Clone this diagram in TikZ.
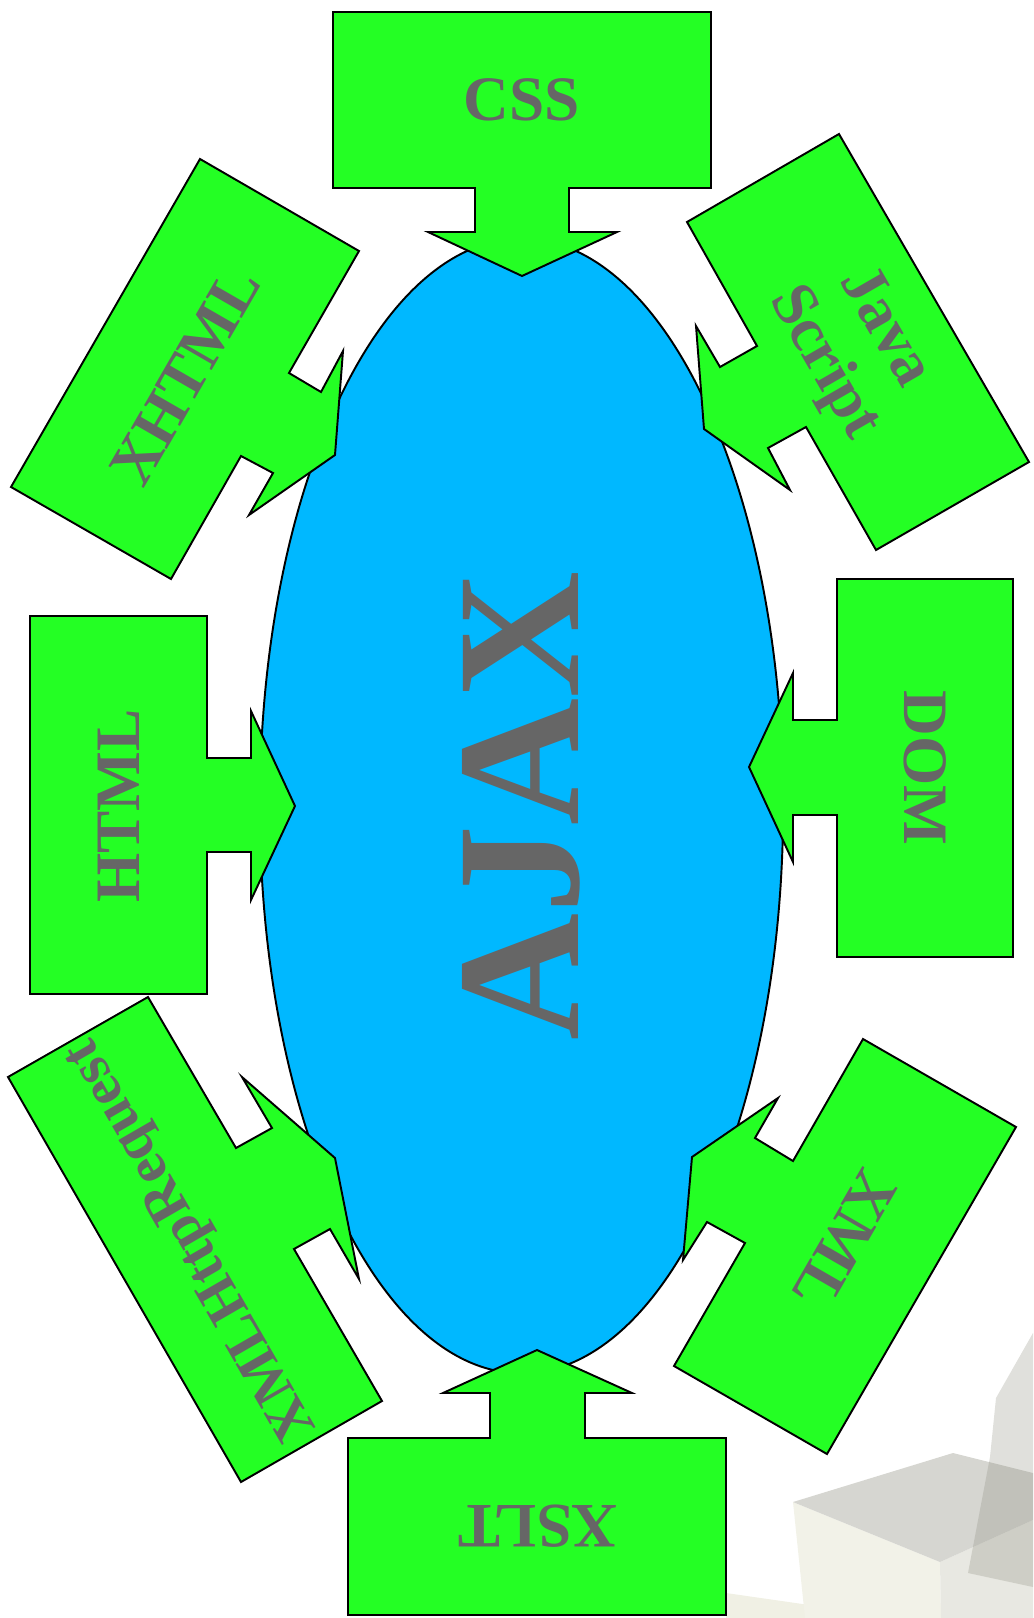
\documentclass[tikz,border=0pt]{standalone}
\usepackage{fontspec}
\setmainfont{Liberation Serif}
\usetikzlibrary{shapes.geometric}
\definecolor{CalloutGreen}{RGB}{36,255,36}
\definecolor{CoreBlue}{RGB}{0,184,255}
\definecolor{LabelGray}{RGB}{102,102,102}
\definecolor{CubeFront}{RGB}{242,242,232}
\definecolor{CubeSide}{RGB}{232,232,226}
\definecolor{CubeTop}{RGB}{214,214,209}
\definecolor{CubeShade}{RGB}{139,139,124}
\definecolor{CubeFloor}{RGB}{240,240,228}

\begin{document}
\begin{tikzpicture}[x=0.01cm,y=-0.01cm,
    callout/.style={draw=black,fill=CalloutGreen,line width=0.55pt,line join=miter},
    lbl/.style={text=LabelGray,font=\fontsize{18}{20}\selectfont\bfseries,
                align=center,inner sep=0pt}
  ]
  \useasboundingbox (0,0) rectangle (1033,1618);

  % template cubes, lower right
  \fill[CubeFloor] (726,1593) -- (900,1618) -- (726,1618) -- cycle;
  \fill[CubeFront] (793,1502) -- (940,1562) -- (941,1618) -- (805,1618) -- cycle;
  \fill[CubeSide] (940,1562) -- (1033,1520) -- (1033,1618) -- (941,1618) -- cycle;
  \fill[CubeTop] (793,1502) -- (953,1453) -- (1033,1473) -- (1033,1520) -- (940,1562) -- cycle;
  \fill[CubeShade,fill opacity=0.27] (1033,1333) -- (996,1398) -- (990,1457)
    -- (968,1573) -- (1033,1587) -- cycle;

  \node[ellipse,draw=black,fill=CoreBlue,line width=0.55pt,inner sep=0pt,
        minimum width=5.23cm,minimum height=11.34cm] (core) at (521.5,806) {};
  \node[lbl,font=\fontsize{50}{50}\selectfont\bfseries,rotate=90] (ajax) at (core.center) {AJAX};

  \draw[callout] (333,12) -- (711,12) -- (711,188) -- (569,188) -- (569,232) -- (617,232)
    -- (522,276) -- (428,232) -- (475,232) -- (475,188) -- (333,188) -- cycle;
  \node[lbl] (css) at (522,100) {CSS};

  \draw[callout] (839,134) -- (1029,462) -- (876,550) -- (806,427) -- (768,448) -- (790,490)
    -- (704,429) -- (696,326) -- (720,367) -- (757,346) -- (687,222) -- cycle;
  \node[lbl,rotate=-60] (js) at (853,346) {Java\\Script};

  \draw[callout] (837,579) -- (1013,579) -- (1013,957) -- (837,957) -- (837,815) -- (793,815)
    -- (793,862) -- (749,767) -- (793,673) -- (793,720) -- (837,720) -- cycle;
  \node[lbl,rotate=-90] (dom) at (925,768) {DOM};

  \draw[callout] (863,1039) -- (1016,1127) -- (827,1454) -- (674,1366) -- (745,1243)
    -- (707,1222) -- (683,1260) -- (692,1157) -- (778,1098) -- (755,1138) -- (793,1161) -- cycle;
  \node[lbl,rotate=240] (xml) at (845,1240) {XML};

  \draw[callout] (348,1438) -- (490,1438) -- (490,1393) -- (443,1393) -- (537,1350)
    -- (632,1393) -- (585,1393) -- (585,1438) -- (726,1438) -- (726,1615) -- (348,1615) -- cycle;
  \node[lbl,rotate=180] (xslt) at (538,1526) {XSLT};

  \draw[callout] (148,997) -- (236,1148) -- (272,1128) -- (242,1077) -- (335,1158)
    -- (359,1279) -- (330,1229) -- (294,1249) -- (382,1401) -- (241,1482) -- (8,1077) -- cycle;
  \node[lbl,font=\fontsize{16.5}{20}\selectfont\bfseries,rotate=120] (xhr) at (193,1239) {XMLHttpRequest};

  \draw[callout] (30,616) -- (207,616) -- (207,758) -- (251,758) -- (251,711) -- (295,806)
    -- (251,900) -- (251,852) -- (207,852) -- (207,994) -- (30,994) -- cycle;
  \node[lbl,rotate=90] (html) at (119,806) {HTML};

  \draw[callout] (200,159) -- (359,251) -- (289,373) -- (321,392) -- (343,351) -- (335,455)
    -- (249,515) -- (273,473) -- (241,456) -- (171,579) -- (11,487) -- cycle;
  \node[lbl,rotate=60] (xhtml) at (185,376) {XHTML};
\end{tikzpicture}
\end{document}
